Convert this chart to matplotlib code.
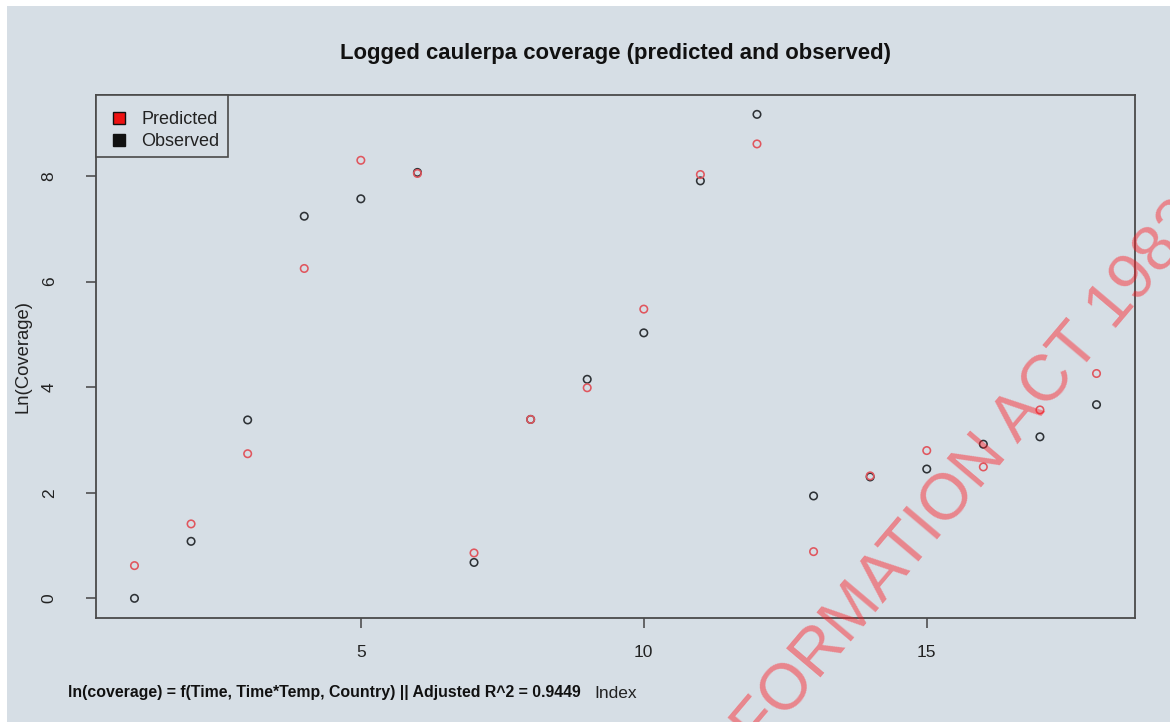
import matplotlib
matplotlib.use("Agg")
import matplotlib.pyplot as plt
from matplotlib.lines import Line2D
from matplotlib.patches import Rectangle

# ---- data ----
index = list(range(1, 19))
observed = [0.00, 1.08, 3.38, 7.24, 7.57, 8.07, 0.68, 3.39, 4.15, 5.03,
            7.91, 9.17, 1.94, 2.30, 2.45, 2.92, 3.06, 3.67]
predicted = [0.62, 1.41, 2.74, 6.25, 8.30, 8.05, 0.86, 3.39, 3.99, 5.48,
             8.03, 8.61, 0.885, 2.32, 2.80, 2.49, 3.57, 4.26]
x_ticks = [5, 10, 15]
y_ticks = [0, 2, 4, 6, 8]
title = "Logged caulerpa coverage (predicted and observed)"
subtitle = "ln(coverage) = f(Time, Time*Temp, Country) || Adjusted R^2 = 0.9449"
legend_labels = ["Predicted", "Observed"]
legend_colors = ["#ee1111", "#111111"]
watermark = "FORMATION ACT 1982"

W, H = 1170, 722
BG = "#d6dee5"
RED = "#e0565e"
BLK = "#2e3236"

plt.rcParams['font.family'] = ['Liberation Sans', 'DejaVu Sans']

fig = plt.figure(figsize=(W / 100, H / 100), dpi=100)
fig.patch.set_facecolor("white")
fig.patches.append(Rectangle((7 / W, 0), 1 - 7 / W, 1 - 6 / H, transform=fig.transFigure,
                             facecolor=BG, edgecolor="none", zorder=-10))

left, right, top, bottom = 96, 1135, 95, 617.7
ax = fig.add_axes([left / W, 1 - bottom / H, (right - left) / W, (bottom - top) / H])
ax.set_facecolor(BG)

ax.scatter(index, observed, s=29, facecolors="none", edgecolors=BLK, linewidths=1.15, zorder=3)
ax.scatter(index, predicted, s=29, facecolors="none", edgecolors=RED, linewidths=1.15, zorder=4)

ax.set_xlim(0.32, 18.68)
ax.set_ylim(-0.367, 9.537)
ax.set_xticks(x_ticks)
ax.set_yticks(y_ticks)
ax.set_xticklabels([str(t) for t in x_ticks])
ax.set_yticklabels([str(t) for t in y_ticks], rotation=90, va="center")
ax.tick_params(axis="both", direction="out", length=7.3, width=1.1, color="#444444",
               labelsize=12.5, labelcolor="#222222")
ax.tick_params(axis="x", pad=12)
ax.tick_params(axis="y", pad=21)
for sp in ax.spines.values():
    sp.set_color("#4a4a4a")
    sp.set_linewidth(1.3)

ax.set_ylabel("Ln(Coverage)", fontsize=13.3, color="#222222", labelpad=7)

fig.text(615.5 / W, 1 - 53 / H, title, ha="center", va="center",
         fontsize=15.9, fontweight="bold", color="#111111")
fig.text(68 / W, 1 - 693 / H, subtitle, ha="left", va="center",
         fontsize=11.4, fontweight="bold", color="#111111")
fig.text(615.5 / W, 1 - 693 / H, "Index", ha="center", va="center",
         fontsize=12.5, color="#222222")

# legend box drawn like R's legend()
def fx(px):
    return px / W

def fy(py):
    return 1 - py / H

lx0, ly0, lx1, ly1 = 96, 95, 228, 157
fig.patches.append(Rectangle((fx(lx0), fy(ly1)), fx(lx1) - fx(lx0), fy(ly0) - fy(ly1),
                             transform=fig.transFigure, facecolor=BG, edgecolor="#4a4a4a",
                             linewidth=1.2, zorder=5))
for i, (lab, col) in enumerate(zip(legend_labels, legend_colors)):
    yy = 118 + 22 * i
    fig.lines.append(Line2D([fx(119)], [fy(yy)], transform=fig.transFigure, marker="s",
                            linestyle="none", markersize=8, markerfacecolor=col,
                            markeredgecolor="#111111", markeredgewidth=1, zorder=6))
    fig.text(fx(141.5), fy(yy + 2), lab, ha="left", va="center", fontsize=13,
             color="#222222", zorder=6)

fig.text(760 / W, 1 - 751 / H, watermark, rotation=49.8, rotation_mode="anchor",
         ha="left", va="baseline", fontsize=47, color="#ff1a22", alpha=0.45, zorder=20)

fig.savefig("out.png", dpi=100, facecolor=fig.get_facecolor())
